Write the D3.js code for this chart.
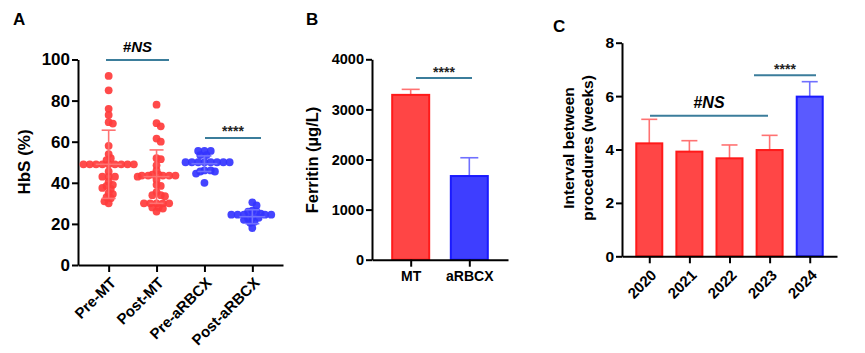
<!DOCTYPE html>
<html>
<head>
<meta charset="utf-8">
<script src="https://cdn.jsdelivr.net/npm/d3@7"></script>
<style>
  body { margin: 0; background: #fff; }
  svg { font-family: "Liberation Sans", Arial, sans-serif; font-weight: bold; }
  .axis path, .axis line { stroke: #000; stroke-width: 2px; }
  .axis text { fill: #000; font-weight: bold; }
</style>
</head>
<body>
<div id="container"></div>
<script>
/* CONSTANTS AND GLOBALS */
const width = 865
const height = 353

const red = "#ff3b3b"
const redLight = "#ff7272"
const blue = "#3434ff"
const blueLight = "#7070ff"
const sigColor = "#3b7d9b"

// panel A: HbS (%) per patient
const groupsA = ["Pre-MT", "Post-MT", "Pre-aRBCX", "Post-aRBCX"]
const preMT = [92, 85, 76, 73, 69.5, 68.8, 58, 54, 52, 51, 49, 49, 49, 49, 49, 49, 49, 49, 49,
  45.5, 43, 43, 43, 40.5, 39, 38.5, 37.5, 37, 35, 34.5, 33, 32.5, 31, 30]
const postMT = [78, 69, 67.5, 61.5, 60, 52, 51.5, 48.5, 46, 44, 44, 43.5, 43.5, 43.5, 43.5, 43.5,
  43, 41.5, 39, 38.5, 35.5, 34, 34, 33.5, 30, 30, 30, 30, 30, 28, 28, 27.5, 26]
const preRBCX = [55.5, 55.5, 55.5, 53.5, 53.5, 50, 50, 50, 50, 50, 50, 50, 50, 46, 46, 45.5, 45.5, 44.5, 40]
const postRBCX = [30.5, 29, 26.5, 26, 26, 25, 24.5, 24.5, 24.5, 24.5, 24.5, 23, 23, 22.5, 22, 21, 20.5, 18]
const meanA = [49, 43, 49.3, 23.5]
const sdA = [16.6, 13, 3.8, 3.4]
const ticksA = [0, 20, 40, 60, 80, 100]

// panel B: ferritin
const groupsB = ["MT", "aRBCX"]
const meanB = [3290, 1670]
const errB = [110, 365]
const ticksB = [0, 1000, 2000, 3000, 4000]

// panel C: interval between procedures
const years = ["2020", "2021", "2022", "2023", "2024"]
const meanC = [4.23, 3.92, 3.67, 3.98, 5.98]
const errC = [0.9, 0.41, 0.5, 0.55, 0.56]
const ticksC = [0, 2, 4, 6, 8]

const svg = d3.select("#container")
  .append("svg")
  .attr("width", width)
  .attr("height", height)

// simple beeswarm: spread points sideways so they don't overlap too much
function swarm(values, y, minDist, step) {
  const placed = []
  values.slice().sort((a, b) => b - a).forEach(v => {
    const py = y(v)
    let off = 0
    for (let k = 0; k < 60; k++) {
      const cand = k === 0 ? 0 : (k % 2 ? 1 : -1) * Math.ceil(k / 2) * step
      const hit = placed.some(p => Math.hypot(p.dx - cand, p.y - py) < minDist)
      if (!hit) { off = cand; break }
    }
    placed.push({ v: v, y: py, dx: off })
  })
  return placed
}

function sigLine(x1, x2, y, label, ty, size, italicNS) {
  svg.append("line")
    .attr("x1", x1).attr("x2", x2).attr("y1", y).attr("y2", y)
    .attr("stroke", sigColor).attr("stroke-width", 2)
  const t = svg.append("text")
    .attr("x", (x1 + x2) / 2).attr("y", ty)
    .attr("text-anchor", "middle")
    .attr("font-size", size)
    .attr("fill", italicNS ? "#000" : "#222")
  if (italicNS) {
    t.append("tspan").text("#")
    t.append("tspan").attr("font-style", "italic").text("NS")
  } else {
    t.text(label)
  }
}

/* PANEL A */
const yA = d3.scaleLinear().domain([0, 100]).range([265, 59.5])
const xA = d3.scalePoint().domain(groupsA).range([78, 283]).padding(0.64)

svg.append("g")
  .attr("class", "axis")
  .attr("transform", `translate(78, 0)`)
  .call(d3.axisLeft(yA).tickValues(ticksA).tickSize(6).tickSizeOuter(0).tickPadding(2))
  .selectAll("text").attr("font-size", 17)

const xAxisA = svg.append("g")
  .attr("class", "axis")
  .attr("transform", `translate(0, 265)`)
  .call(d3.axisBottom(xA).tickSize(7).tickSizeOuter(0))
xAxisA.selectAll("text")
  .attr("font-size", 15)
  .attr("text-anchor", "end")
  .attr("transform", "translate(4, 15) rotate(-45)")
  .attr("y", 0).attr("dy", "0.35em").attr("x", 0)

const seriesA = [preMT, postMT, preRBCX, postRBCX]
seriesA.forEach((vals, i) => {
  const cx = xA(groupsA[i])
  const col = i < 2 ? red : blue
  const pts = swarm(vals, yA, 4.3, 2.1)
  svg.append("g")
    .selectAll("circle")
    .data(pts)
    .join("circle")
    .attr("cx", d => cx + d.dx)
    .attr("cy", d => d.y)
    .attr("r", 3.9)
    .attr("fill", col)
    .attr("fill-opacity", 0.92)

  // mean +/- SD
  const lc = i < 2 ? redLight : blueLight
  const g = svg.append("g").attr("stroke", lc).attr("stroke-width", 1.6)
  g.append("line").attr("x1", cx).attr("x2", cx)
    .attr("y1", yA(meanA[i] - sdA[i])).attr("y2", yA(meanA[i] + sdA[i]))
  ;[meanA[i] - sdA[i], meanA[i] + sdA[i]].forEach(v => {
    g.append("line").attr("x1", cx - 7).attr("x2", cx + 7).attr("y1", yA(v)).attr("y2", yA(v))
  })
  g.append("line").attr("x1", cx - 13).attr("x2", cx + 13)
    .attr("y1", yA(meanA[i])).attr("y2", yA(meanA[i]))
})

svg.append("text").attr("x", 24).attr("y", 162)
  .attr("transform", "rotate(-90, 24, 162)")
  .attr("text-anchor", "middle").attr("dy", "0.35em")
  .attr("font-size", 17).text("HbS (%)")

svg.append("text").attr("x", 13).attr("y", 25).attr("font-size", 17).text("A")

sigLine(106, 169, 60, "#NS", 52, 15, true)
sigLine(205, 261, 138, "****", 136, 14, false)

/* PANEL B */
const yB = d3.scaleLinear().domain([0, 4000]).range([259.7, 59.3])
const xB = d3.scalePoint().domain(groupsB).range([372, 508]).padding(0.66)
const barW = 37

groupsB.forEach((g, i) => {
  const cx = xB(g)
  const fill = i === 0 ? red : blue
  const lc = i === 0 ? redLight : blueLight
  svg.append("line").attr("x1", cx).attr("x2", cx)
    .attr("y1", yB(meanB[i])).attr("y2", yB(meanB[i] + errB[i]))
    .attr("stroke", lc).attr("stroke-width", 1.6)
  svg.append("line").attr("x1", cx - 9).attr("x2", cx + 9)
    .attr("y1", yB(meanB[i] + errB[i])).attr("y2", yB(meanB[i] + errB[i]))
    .attr("stroke", lc).attr("stroke-width", 1.6)
  svg.append("rect")
    .attr("x", cx - barW / 2).attr("width", barW)
    .attr("y", yB(meanB[i])).attr("height", yB(0) - yB(meanB[i]))
    .attr("fill", fill).attr("fill-opacity", 0.95)
    .attr("stroke", i === 0 ? "#ff1a1a" : "#1a1aff").attr("stroke-width", 2)
})

svg.append("g")
  .attr("class", "axis")
  .attr("transform", `translate(372, 0)`)
  .call(d3.axisLeft(yB).tickValues(ticksB).tickFormat(d3.format("d"))
    .tickSize(6).tickSizeOuter(0).tickPadding(2))
  .selectAll("text").attr("font-size", 14.5)

svg.append("g")
  .attr("class", "axis")
  .attr("transform", `translate(0, 259.7)`)
  .call(d3.axisBottom(xB).tickSize(7).tickSizeOuter(0).tickPadding(4))
  .selectAll("text").attr("font-size", 14)

svg.append("text").attr("x", 312).attr("y", 160)
  .attr("transform", "rotate(-90, 312, 160)")
  .attr("text-anchor", "middle").attr("dy", "0.35em")
  .attr("font-size", 16.5).text("Ferritin (µg/L)")

svg.append("text").attr("x", 306).attr("y", 25).attr("font-size", 17).text("B")

sigLine(416, 472, 78, "****", 77, 14, false)

/* PANEL C */
const yC = d3.scaleLinear().domain([0, 8]).range([256.3, 42.7])
const xC = d3.scalePoint().domain(years).range([622, 837]).padding(0.68)
const barWC = 26

years.forEach((yr, i) => {
  const cx = xC(yr)
  const isBlue = i === years.length - 1
  const lc = isBlue ? blueLight : redLight
  svg.append("line").attr("x1", cx).attr("x2", cx)
    .attr("y1", yC(meanC[i])).attr("y2", yC(meanC[i] + errC[i]))
    .attr("stroke", lc).attr("stroke-width", 1.6)
  svg.append("line").attr("x1", cx - 8).attr("x2", cx + 8)
    .attr("y1", yC(meanC[i] + errC[i])).attr("y2", yC(meanC[i] + errC[i]))
    .attr("stroke", lc).attr("stroke-width", 1.6)
  svg.append("rect")
    .attr("x", cx - barWC / 2).attr("width", barWC)
    .attr("y", yC(meanC[i])).attr("height", yC(0) - yC(meanC[i]))
    .attr("fill", isBlue ? "#5a5aff" : "#ff4646")
    .attr("stroke", isBlue ? "#1a1aff" : "#ff1a1a").attr("stroke-width", 2)
})

svg.append("g")
  .attr("class", "axis")
  .attr("transform", `translate(622, 0)`)
  .call(d3.axisLeft(yC).tickValues(ticksC).tickSize(6).tickSizeOuter(0).tickPadding(2))
  .selectAll("text").attr("font-size", 15.5)

const xAxisC = svg.append("g")
  .attr("class", "axis")
  .attr("transform", `translate(0, 256.3)`)
  .call(d3.axisBottom(xC).tickSize(7).tickSizeOuter(0))
xAxisC.selectAll("text")
  .attr("font-size", 15)
  .attr("text-anchor", "end")
  .attr("transform", "translate(4, 16) rotate(-45)")
  .attr("y", 0).attr("dy", "0.35em").attr("x", 0)

const titleC = svg.append("text")
  .attr("transform", "translate(578, 148) rotate(-90)")
  .attr("text-anchor", "middle")
  .attr("font-size", 15.5)
titleC.append("tspan").attr("x", 0).attr("dy", "-0.25em").text("Interval between")
titleC.append("tspan").attr("x", 0).attr("dy", "1.2em").text("procedures (weeks)")

svg.append("text").attr("x", 553).attr("y", 31.5).attr("font-size", 17).text("C")

sigLine(650, 768, 115.7, "#NS", 108, 16, true)
sigLine(754, 816, 75.3, "****", 74, 14, false)
</script>
</body>
</html>
